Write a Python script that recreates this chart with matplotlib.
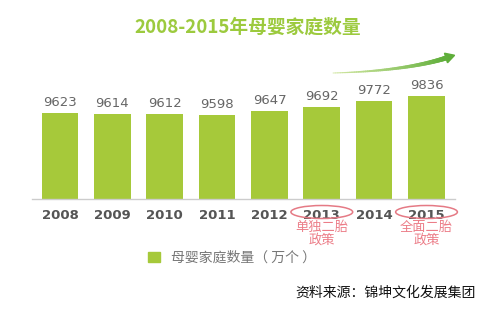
import matplotlib
matplotlib.use('Agg')
import matplotlib.pyplot as plt
import numpy as np
from matplotlib.patches import Ellipse, Patch, Polygon
from matplotlib.collections import LineCollection
from matplotlib.transforms import blended_transform_factory

plt.rcParams['font.family'] = ['Noto Sans CJK SC', 'DejaVu Sans']

# 数据
years = ['2008', '2009', '2010', '2011', '2012', '2013', '2014', '2015']
families = [9623, 9614, 9612, 9598, 9647, 9692, 9772, 9836]
policy_years = {'2013': '单独二胎\n政策', '2015': '全面二胎\n政策'}

title = '2008-2015年母婴家庭数量'
legend_label = '母婴家庭数量（ 万个 ）'
source = '资料来源：锦坤文化发展集团'

green = '#a6c93a'
W, H = 498, 314

fig = plt.figure(figsize=(W / 100, H / 100), dpi=100)
ax = fig.add_axes([32 / W, 115 / H, 423 / W, 159 / H])

x = np.arange(len(years))
bars = ax.bar(x, families, width=0.70, color=green)
ax.set_ylim(8545, 10537)
ax.set_xlim(-0.535, 7.544)

ax.bar_label(bars, labels=[str(v) for v in families], padding=3,
             fontsize=9.5, color='#666666', family='DejaVu Sans')

ax.set_xticks(x)
ax.set_xticklabels(years, fontsize=9.5, fontweight='bold', color='#555555',
                   family='DejaVu Sans')
ax.tick_params(axis='x', length=0, pad=7)
ax.set_yticks([])
for s in ['top', 'right', 'left']:
    ax.spines[s].set_visible(False)
ax.spines['bottom'].set_color('#cccccc')
ax.spines['bottom'].set_linewidth(1)

# 标题
fig.text(248 / W, 1 - 27 / H, title, ha='center', va='center',
         fontsize=13.5, fontweight='bold', color='#9cca3e')

# 政策标注
trans = blended_transform_factory(ax.transData, fig.transFigure)
for yr, txt in policy_years.items():
    i = years.index(yr)
    fig.patches.append(Ellipse((i, 1 - 212 / H), 1.18, 13 / H,
                               transform=trans, fill=False,
                               edgecolor='#e57a85', linewidth=1.1))
    fig.text(i, 1 - 221 / H, txt, transform=trans, ha='center', va='top',
             fontsize=9.5, color='#ec7d88', linespacing=0.95)

# 上升箭头（渐变）
p0 = np.array([333, 73.0])
p1 = np.array([405, 71.0])
p2 = np.array([446, 58.0])
t = np.linspace(0, 1, 60)
pts = ((1 - t)[:, None] ** 2 * p0 + 2 * ((1 - t) * t)[:, None] * p1
       + (t ** 2)[:, None] * p2)
pts_f = np.column_stack([pts[:, 0] / W, 1 - pts[:, 1] / H])
segs = np.stack([pts_f[:-1], pts_f[1:]], axis=1)
cmap = matplotlib.colors.LinearSegmentedColormap.from_list('g', ['#d0e6a0', '#5fae3a'])
lc = LineCollection(segs, colors=cmap(t[:-1]), linewidths=0.6 + 3.0 * t[:-1],
                    transform=fig.transFigure, capstyle='round')
fig.add_artist(lc)
d = p2 - p1
d = d / np.linalg.norm(d)
nrm = np.array([-d[1], d[0]])
tip = p2 + d * 9
head = np.array([tip, p2 + nrm * 5, p2 - nrm * 5])
head_f = np.column_stack([head[:, 0] / W, 1 - head[:, 1] / H])
fig.add_artist(Polygon(head_f, closed=True, color='#5fae3a',
                       transform=fig.transFigure))

# 图例
fig.legend(handles=[Patch(color=green, label=legend_label)], loc='center',
           bbox_to_anchor=(232 / W, 1 - 258 / H), frameon=False,
           fontsize=10, labelcolor='#777777', handlelength=0.8,
           handleheight=0.8, handletextpad=0.8)

# 来源
fig.text(386 / W, 1 - 293 / H, source, ha='center', va='center',
         fontsize=10, color='#111111')

fig.savefig('out.png', dpi=100)
